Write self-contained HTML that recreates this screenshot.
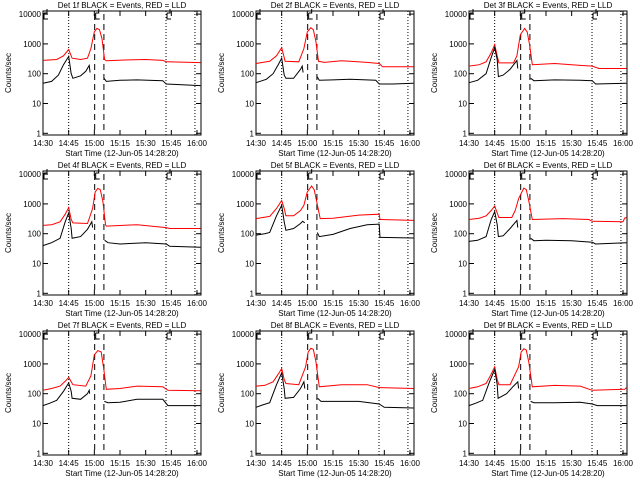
<!DOCTYPE html>
<html><head><meta charset="utf-8"><style>
html,body{margin:0;padding:0;background:#fff;}
svg{display:block;}
text{font-family:"Liberation Sans",sans-serif;font-size:8px;fill:#000;}
</style></head><body>
<svg id="chart" width="640" height="480" viewBox="0 0 640 480"></svg>
<script>
const detNames = ["1f","2f","3f","4f","5f","6f","7f","8f","9f"];
const xTickLabels = ["14:30","14:45","15:00","15:15","15:30","15:45","16:00"];
const xTickMinutes = [0,15,30,45,60,75,90];
const yTickValues = [1,10,100,1000,10000];
const yTickLabels = ["1","10","100","1000","10000"];
const dottedMinutes = [15,71.9,88.8];
const dashedMinutes = [30.2,35.6];
const red1=[[0,280],[8,300],[12,400],[15,650],[17,330],[22,300],[26,330],[28,700],[30,2500],[31.5,3300],[33,3000],[34.5,1500],[36,300],[37,270],[50,290],[60,300],[70,280],[72,250],[92,235]];
const blk1=[[0,48],[5,55],[9,90],[12,200],[15,380],[16.5,100],[17.5,70],[22,85],[25,120],[27,190],[27.5,110],null,[35.7,70],[37,55],[45,60],[55,62],[70,58],[72,45],[92,40]];
const red2=[[0,220],[8,260],[12,400],[15,750],[17,260],[25,250],[28,700],[30,2500],[32,3500],[33.5,3000],[35,1200],[36.5,260],[40,240],[50,270],[65,240],[72,220],[74,170],[92,170]];
const blk2=[[0,50],[6,65],[10,100],[13,200],[15,330],[16.5,90],[17.5,70],[22,70],[26,140],[27,180],[27.5,110],null,[35.7,80],[37,60],[45,62],[55,65],[70,60],[72,45],[80,45],[92,48]];
const red3=[[0,180],[6,200],[10,250],[13,500],[15,950],[16.5,400],[17.5,230],[26,230],[28,400],[30,2000],[32.5,3300],[34,2500],[35.5,900],[37,200],[50,220],[65,190],[72,180],[76,150],[92,150]];
const blk3=[[0,50],[5,60],[10,100],[13,350],[15,750],[16.5,300],[17.2,80],[20,90],[24,140],[28,280],[28.5,150],null,[36,70],[38,58],[50,62],[65,60],[72,58],[74,45],[92,48]];
const red4=[[0,190],[5,200],[10,250],[13,450],[15,750],[16.5,300],[17.5,230],[26,220],[29,700],[30.5,2500],[32,3300],[33.5,3000],[35,1200],[36.5,200],[37,180],[55,200],[72,160],[74,150],[92,150]];
const blk4=[[0,40],[5,50],[10,70],[13,250],[15,500],[16.5,150],[17,70],[22,80],[26,140],[28.5,250],[29,160],null,[36,60],[38,50],[45,45],[60,50],[72,45],[74,38],[92,35]];
const red5=[[0,320],[8,380],[12,700],[15,1300],[16.5,700],[17.5,400],[22,400],[26,600],[28,900],[30,2500],[32.5,4000],[34,3000],[35.5,1200],[37.5,320],[45,330],[60,420],[72,450],[72.5,300],[92,280]];
const blk5=[[0,90],[5,100],[8,110],[12,400],[15,900],[16.5,250],[17.5,130],[22,150],[26,220],[27.3,260],[28.5,230],null,[35.8,110],[37,80],[45,95],[55,150],[65,200],[72,210],[72.5,75],[92,72]];
const red6=[[0,300],[6,330],[10,400],[13,600],[15,850],[16.5,500],[17.5,350],[25,350],[27,600],[29,1500],[32,3400],[33.5,3000],[35,1200],[37,300],[55,320],[70,300],[72,260],[90,250],[91,330],[92,350]];
const blk6=[[0,55],[5,60],[10,80],[13,300],[15,550],[16.5,200],[17.2,80],[20,85],[24,150],[28,280],[28.5,160],null,[36,70],[38,58],[45,60],[60,58],[72,52],[74,45],[92,50]];
const red7=[[0,130],[5,150],[10,180],[13,260],[15,350],[16.5,250],[17.5,200],[25,180],[28,400],[30,2000],[32,2800],[34,2500],[35.5,700],[37,140],[45,150],[55,180],[70,170],[73,130],[92,125]];
const blk7=[[0,40],[4,48],[8,60],[12,120],[15,230],[16.5,120],[17,70],[22,65],[26,100],[27,130],[27.3,100],null,[35.8,55],[38,50],[45,52],[55,65],[70,65],[73,40],[92,40]];
const red8=[[0,180],[5,190],[10,250],[13,450],[15,700],[16.5,300],[17.5,220],[25,200],[29,800],[30.5,2500],[32,3300],[33.5,3100],[35,1200],[37,170],[50,200],[65,200],[72,160],[92,150]];
const blk8=[[0,35],[4,42],[8,50],[12,200],[15,500],[16.5,150],[17,70],[22,75],[26,150],[28,250],[28.5,150],null,[36,70],[38,55],[45,55],[60,55],[72,45],[75,35],[92,33]];
const red9=[[0,150],[5,170],[10,220],[13,450],[15,800],[16.5,300],[17.5,200],[24,200],[29,800],[30.5,2500],[32,3200],[33.5,2900],[35,1100],[37,170],[50,190],[65,180],[72,130],[91,140],[92,160]];
const blk9=[[0,40],[4,48],[8,60],[12,250],[15,650],[16.5,200],[17,70],[22,100],[26,180],[28.5,250],[29,150],null,[36,55],[38,50],[50,50],[65,52],[72,45],[75,40],[92,40]];
const redSeries=[red1,red2,red3,red4,red5,red6,red7,red8,red9];
const blackSeries=[blk1,blk2,blk3,blk4,blk5,blk6,blk7,blk8,blk9];

const NS="http://www.w3.org/2000/svg";
const svg=document.getElementById('chart');
const L=43,R=201,T=11,B=135;
function xs(t){return L+1.711*t;}
function ys(v){return 133.3-29.8*Math.log10(v);}
function mk(tag,attrs,parent){const e=document.createElementNS(NS,tag);for(const k in attrs)e.setAttribute(k,attrs[k]);parent.appendChild(e);return e;}
function pathFrom(data){let d="",pen=false;for(const p of data){if(p===null){pen=false;continue;}const x=xs(p[0]).toFixed(1),y=ys(p[1]).toFixed(1);d+=(pen?"L":"M")+x+" "+y+" ";pen=true;}return d;}

for(let i=0;i<9;i++){
  const ox=(i%3)*213, oy=Math.floor(i/3)*160;
  const g=mk('g',{transform:`translate(${ox},${oy})`},svg);
  
  
  const title=mk('text',{x:122,y:8,'text-anchor':'middle','font-size':'9'},g);
  title.textContent=`Det ${detNames[i]} BLACK = Events, RED = LLD`;
  
  
  const box=mk('rect',{x:L,y:T,width:R-L,height:B-T,fill:'none',stroke:'#000','stroke-width':1},g);
  
  
  for(let k=0;k<yTickValues.length;k++){
    const y=ys(yTickValues[k]);
    mk('line',{x1:L,x2:L+5,y1:y,y2:y,stroke:'#000'},g);
    mk('line',{x1:R-5,x2:R,y1:y,y2:y,stroke:'#000'},g);
    const t=mk('text',{x:L-2,y:y+3,'text-anchor':'end','font-size':'8'},g);
    t.textContent=yTickLabels[k];
    
    
  }
  for(let k=0;k<xTickMinutes.length;k++){
    const x=xs(xTickMinutes[k]);
    mk('line',{x1:x,x2:x,y1:B,y2:B-5,stroke:'#000'},g);
    mk('line',{x1:x,x2:x,y1:T,y2:T+5,stroke:'#000'},g);
    const t=mk('text',{x:x,y:146,'text-anchor':'middle','font-size':'8'},g);
    t.textContent=xTickLabels[k];
    
    
  }
  const xt=mk('text',{x:122,y:156,'text-anchor':'middle','font-size':'8'},g);
  xt.textContent='Start Time (12-Jun-05 14:28:20)';
  
  
  const yt=mk('text',{x:0,y:0,'text-anchor':'middle','font-size':'7',transform:'translate(11,73) rotate(-90)'},g);
  yt.textContent='Counts/sec';
  
  
  for(const m of dottedMinutes){const l=mk('line',{x1:xs(m),x2:xs(m),y1:T,y2:B,stroke:'#000','stroke-dasharray':'1,2'},g);}
  for(const m of dashedMinutes){const l=mk('line',{x1:xs(m),x2:xs(m),y1:T+3,y2:B-3,stroke:'#000','stroke-dasharray':'6,4'},g);}
  const marks=[[0,'E'],[dashedMinutes[0],'S'],[dottedMinutes[1],'E']];
  for(const mm of marks){const x=xs(mm[0]);mk('path',{d:`M${x+1} ${T+2} v6 h4 M${x+1} ${T+2} h3 v-4`,fill:'none',stroke:'#000'},g);}
  const rp=mk('path',{d:pathFrom(redSeries[i]),fill:'none',stroke:'#ff0000','stroke-width':1},g);
  
  
  const bp=mk('path',{d:pathFrom(blackSeries[i]),fill:'none',stroke:'#000','stroke-width':1},g);
  
  
}
</script>
</body></html>
